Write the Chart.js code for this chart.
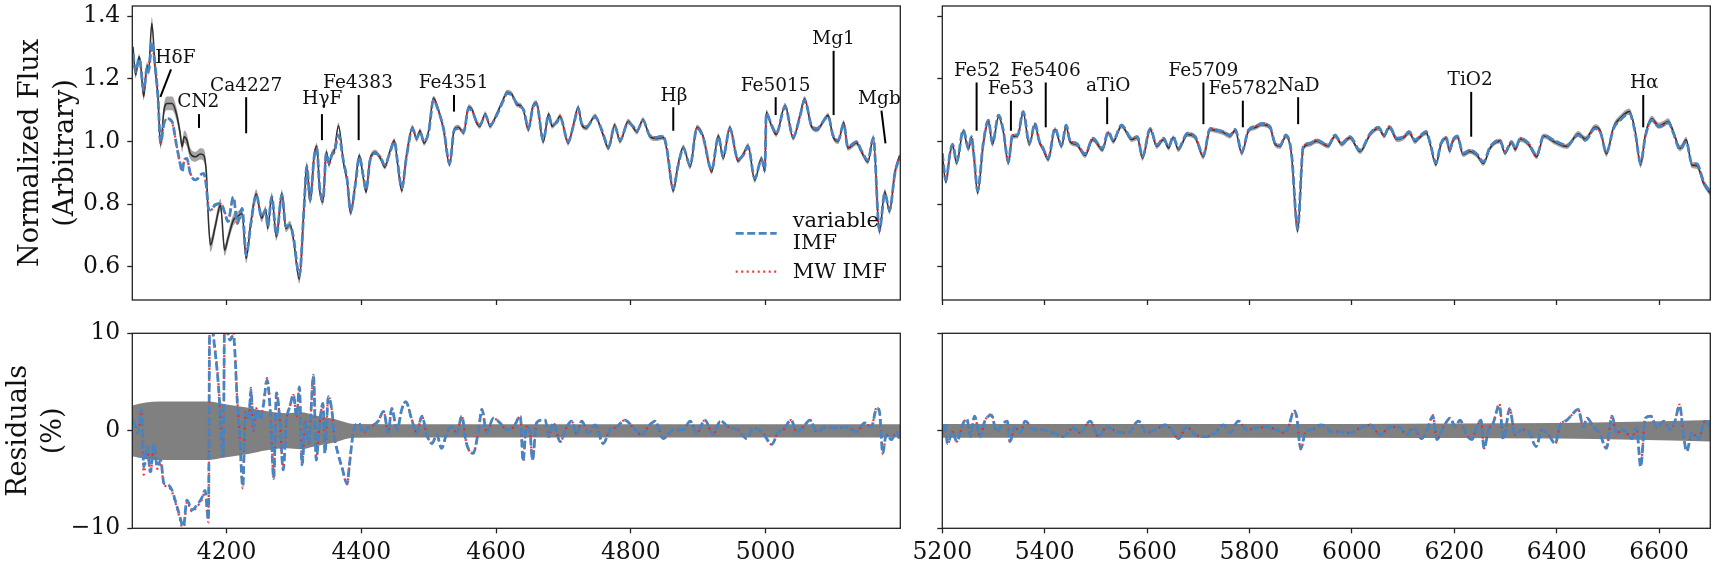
<!DOCTYPE html>
<html>
<head>
<meta charset="utf-8">
<script src="https://cdn.jsdelivr.net/npm/chart.js@4.4.0/dist/chart.umd.min.js"></script>
<style>
body { margin: 0; background: #fff; }
#wrap { position: relative; width: 1717px; height: 568px; overflow: hidden; }
canvas { position: absolute; }
</style>
</head>
<body>
<div id="wrap">
<canvas id="fluxLeft" width="912" height="310" style="left:0;top:0"></canvas>
<canvas id="fluxRight" width="817" height="310" style="left:900px;top:0"></canvas>
<canvas id="resLeft" width="912" height="258" style="left:0;top:310px"></canvas>
<canvas id="resRight" width="817" height="258" style="left:900px;top:310px"></canvas>
</div>
<script>
// ---- data: blue part of the spectrum (4060-5200 A) ----
var waveL = [
  4061,4065,4070,4072,4077,4082,4084,4089,4094,4098,
  4102,4107,4112,4119,4126,4131,4134,4137,4141,4146,
  4154,4161,4166,4170,4173,4176,4183,4191,4197,4202,
  4210,4216,4223,4229,4236,4244,4252,4258,4261,4267,
  4274,4282,4288,4294,4299,4308,4315,4319,4324,4330,
  4334,4338,4343,4348,4352,4356,4360,4366,4374,4379,
  4384,4391,4397,4403,4407,4413,4421,4428,4435,4442,
  4449,4454,4460,4467,4476,4482,4487,4493,4500,4507,
  4514,4522,4531,4538,4544,4552,4559,4565,4570,4576,
  4584,4591,4601,4611,4616,4623,4631,4636,4641,4648,
  4655,4660,4670,4678,4683,4690,4695,4707,4715,4722,
  4727,4734,4747,4757,4767,4776,4784,4796,4804,4809,
  4818,4828,4838,4848,4853,4863,4870,4878,4888,4898,
  4907,4920,4930,4937,4947,4959,4967,4974,4984,4994,
  4999,5001,5009,5016,5029,5041,5051,5058,5068,5076,
  5093,5100,5108,5116,5122,5135,5142,5152,5160,5169,
  5177,5184,5192,5199];
var fluxObsL = [
  1.302,1.212,1.270,1.254,1.143,1.244,1.222,1.377,1.228,1.143,
  0.988,1.100,1.121,1.121,1.084,1.026,0.983,1.015,1.004,0.962,
  0.951,0.960,0.956,0.898,0.749,0.669,0.728,0.797,0.653,0.690,
  0.749,0.760,0.770,0.627,0.742,0.833,0.755,0.783,0.722,0.826,
  0.695,0.835,0.722,0.735,0.690,0.560,0.795,0.925,0.808,0.957,
  0.985,0.848,0.806,0.968,0.925,0.960,0.972,1.050,0.925,0.872,
  0.770,0.865,0.956,0.882,0.838,0.945,0.965,0.947,0.918,0.966,
  1.003,0.925,0.842,0.955,1.045,1.006,1.035,0.994,1.035,1.138,
  1.104,1.037,0.925,1.040,1.045,1.027,1.110,1.100,1.064,1.048,
  1.088,1.048,1.088,1.136,1.157,1.152,1.117,1.115,1.096,1.036,
  1.116,1.123,0.998,1.088,1.048,1.064,1.081,0.994,1.056,1.110,
  1.053,1.043,1.081,1.032,0.978,1.053,1.000,1.064,1.043,1.030,
  1.070,1.016,1.009,1.013,0.978,0.842,0.925,0.982,0.919,1.045,
  1.019,0.903,1.019,0.946,1.045,0.938,0.960,0.987,0.876,0.947,
  0.903,1.094,1.048,1.022,1.115,1.010,1.083,1.137,1.048,1.037,
  1.083,1.016,1.000,1.061,0.978,0.995,0.968,0.935,1.014,0.710,
  0.840,0.776,0.902,0.955];
var fluxVarL = [
  1.281,1.222,1.265,1.248,1.164,1.238,1.222,1.318,1.238,1.143,
  0.994,1.057,1.073,1.063,0.983,0.930,0.903,0.940,0.946,0.898,
  0.877,0.893,0.898,0.855,0.786,0.781,0.797,0.802,0.775,0.744,
  0.823,0.738,0.786,0.637,0.738,0.829,0.760,0.781,0.728,0.823,
  0.701,0.829,0.728,0.733,0.696,0.573,0.791,0.919,0.813,0.951,
  0.978,0.855,0.813,0.962,0.930,0.956,0.967,1.020,0.930,0.877,
  0.776,0.861,0.951,0.887,0.845,0.940,0.962,0.951,0.924,0.962,
  0.999,0.930,0.850,0.951,1.041,1.010,1.031,0.999,1.031,1.132,
  1.100,1.041,0.930,1.036,1.041,1.031,1.105,1.095,1.068,1.052,
  1.084,1.052,1.084,1.132,1.153,1.148,1.121,1.111,1.100,1.041,
  1.111,1.119,1.004,1.084,1.052,1.060,1.077,0.999,1.052,1.105,
  1.057,1.047,1.077,1.036,0.983,1.049,1.004,1.060,1.047,1.034,
  1.066,1.020,1.013,1.017,0.983,0.850,0.921,0.978,0.924,1.041,
  1.015,0.909,1.015,0.951,1.041,0.943,0.956,0.983,0.882,0.943,
  0.909,1.089,1.052,1.026,1.111,1.015,1.079,1.132,1.052,1.041,
  1.079,1.020,1.004,1.057,0.983,0.999,0.972,0.940,1.010,0.717,
  0.834,0.781,0.898,0.951];
var fluxMwL = [
  1.279,1.224,1.263,1.250,1.160,1.240,1.220,1.310,1.236,1.146,
  0.992,1.060,1.070,1.060,0.985,0.928,0.905,0.938,0.944,0.900,
  0.875,0.891,0.900,0.853,0.788,0.779,0.799,0.800,0.777,0.742,
  0.821,0.740,0.784,0.640,0.736,0.827,0.762,0.779,0.730,0.821,
  0.701,0.829,0.728,0.733,0.696,0.573,0.791,0.919,0.813,0.951,
  0.978,0.855,0.813,0.962,0.930,0.956,0.967,1.020,0.930,0.877,
  0.776,0.861,0.951,0.887,0.845,0.940,0.962,0.951,0.924,0.962,
  0.999,0.930,0.850,0.951,1.041,1.010,1.031,0.999,1.031,1.132,
  1.100,1.041,0.930,1.036,1.041,1.031,1.105,1.095,1.068,1.052,
  1.084,1.052,1.084,1.132,1.153,1.148,1.121,1.111,1.100,1.041,
  1.111,1.119,1.004,1.084,1.052,1.060,1.077,0.999,1.052,1.105,
  1.057,1.047,1.077,1.036,0.983,1.049,1.004,1.060,1.047,1.034,
  1.066,1.020,1.013,1.017,0.983,0.850,0.921,0.978,0.924,1.041,
  1.015,0.909,1.015,0.951,1.041,0.943,0.956,0.983,0.882,0.943,
  0.909,1.089,1.052,1.026,1.111,1.015,1.079,1.132,1.052,1.041,
  1.079,1.020,1.004,1.057,0.983,0.999,0.972,0.940,1.010,0.717,
  0.834,0.781,0.898,0.951];
var fluxErrL = [
  0.010,0.010,0.010,0.010,0.012,0.012,0.012,0.020,0.014,0.012,
  0.012,0.018,0.022,0.022,0.020,0.018,0.018,0.020,0.020,0.018,
  0.016,0.018,0.020,0.020,0.020,0.022,0.020,0.020,0.018,0.018,
  0.018,0.016,0.016,0.016,0.014,0.014,0.012,0.012,0.012,0.012,
  0.012,0.012,0.012,0.012,0.012,0.014,0.012,0.012,0.010,0.010,
  0.010,0.010,0.010,0.010,0.010,0.010,0.010,0.010,0.010,0.010,
  0.008,0.008,0.008,0.008,0.008,0.008,0.008,0.008,0.008,0.008,
  0.008,0.008,0.008,0.008,0.008,0.008,0.008,0.008,0.008,0.008,
  0.008,0.008,0.008,0.008,0.008,0.008,0.008,0.008,0.008,0.008,
  0.008,0.008,0.008,0.008,0.008,0.008,0.008,0.008,0.008,0.008,
  0.008,0.008,0.008,0.008,0.008,0.008,0.008,0.008,0.008,0.008,
  0.008,0.008,0.008,0.008,0.008,0.008,0.008,0.008,0.008,0.008,
  0.008,0.008,0.008,0.008,0.008,0.008,0.008,0.008,0.008,0.008,
  0.008,0.008,0.008,0.008,0.008,0.008,0.008,0.008,0.008,0.008,
  0.008,0.008,0.008,0.008,0.008,0.008,0.008,0.008,0.008,0.008,
  0.008,0.008,0.008,0.008,0.008,0.008,0.008,0.008,0.008,0.010,
  0.009,0.009,0.008,0.008];

// ---- data: red part of the spectrum (5200-6700 A) ----
var waveR = [
  5200,5207,5215,5220,5228,5241,5251,5257,5262,5269,
  5280,5290,5298,5310,5319,5329,5337,5347,5358,5370,
  5381,5389,5397,5407,5420,5433,5442,5449,5462,5479,
  5494,5513,5524,5534,5550,5570,5581,5591,5606,5619,
  5632,5642,5651,5661,5679,5694,5710,5723,5736,5749,
  5762,5772,5785,5798,5811,5824,5840,5850,5860,5871,
  5882,5894,5905,5918,5931,5954,5967,5980,5996,6016,
  6036,6052,6063,6073,6088,6101,6112,6123,6133,6145,
  6153,6164,6174,6184,6191,6197,6206,6217,6231,6244,
  6257,6270,6289,6299,6312,6319,6329,6345,6361,6375,
  6394,6420,6442,6456,6475,6486,6497,6511,6524,6542,
  6553,6564,6573,6586,6599,6609,6618,6628,6641,6653,
  6664,6674,6687,6700];
var fluxObsR = [
  0.958,0.870,0.960,0.988,0.930,1.033,0.975,1.012,0.946,0.835,
  0.990,1.064,0.990,1.080,1.032,0.930,1.016,1.017,1.092,0.990,
  1.053,1.000,0.974,0.942,1.038,0.984,1.049,1.000,0.990,0.955,
  1.006,0.973,1.027,1.000,1.049,1.006,1.012,0.946,1.038,0.984,
  1.006,0.979,1.012,0.974,1.022,1.012,0.951,1.038,1.034,1.028,
  1.017,1.035,0.962,1.033,1.044,1.054,1.044,0.990,0.984,1.017,
  0.957,0.712,0.979,0.991,1.001,0.985,1.017,0.991,1.012,0.968,
  1.023,1.042,1.017,1.044,1.006,1.012,1.028,1.000,1.014,1.028,
  0.990,0.926,0.990,1.010,0.968,1.000,1.014,0.958,0.968,0.956,
  0.930,0.979,1.001,0.963,0.996,0.974,1.007,0.990,0.951,1.017,
  1.000,0.984,1.024,1.008,1.046,1.031,0.960,1.046,1.074,1.095,
  1.036,0.925,1.020,1.072,1.050,1.056,1.064,1.030,0.978,1.005,
  0.925,0.922,0.866,0.835];
var fluxVarR = [
  0.962,0.877,0.962,0.991,0.935,1.036,0.978,1.015,0.951,0.843,
  0.994,1.068,0.994,1.084,1.036,0.935,1.020,1.020,1.095,0.994,
  1.057,1.004,0.978,0.946,1.041,0.988,1.052,1.004,0.994,0.960,
  1.010,0.978,1.031,1.004,1.052,1.010,1.015,0.951,1.041,0.988,
  1.010,0.983,1.015,0.978,1.026,1.015,0.956,1.041,1.036,1.031,
  1.020,1.038,0.967,1.036,1.047,1.057,1.047,0.994,0.988,1.020,
  0.962,0.722,0.983,0.994,1.004,0.988,1.020,0.994,1.015,0.972,
  1.026,1.045,1.020,1.047,1.010,1.015,1.031,1.004,1.017,1.031,
  0.994,0.932,0.994,1.013,0.972,1.004,1.017,0.962,0.972,0.960,
  0.935,0.983,1.004,0.967,0.999,0.978,1.010,0.994,0.956,1.020,
  1.004,0.988,1.020,1.004,1.041,1.026,0.964,1.041,1.068,1.089,
  1.031,0.930,1.015,1.068,1.047,1.052,1.060,1.026,0.974,0.999,
  0.930,0.928,0.871,0.839];
var fluxMwR = [
  0.962,0.875,0.962,0.991,0.935,1.036,0.978,1.015,0.951,0.841,
  0.994,1.068,0.994,1.084,1.036,0.935,1.020,1.020,1.095,0.994,
  1.057,1.004,0.978,0.946,1.041,0.988,1.052,1.004,0.994,0.960,
  1.010,0.978,1.031,1.004,1.052,1.010,1.015,0.951,1.041,0.988,
  1.010,0.983,1.015,0.978,1.026,1.015,0.956,1.041,1.036,1.031,
  1.020,1.038,0.967,1.036,1.047,1.057,1.047,0.994,0.988,1.020,
  0.962,0.720,0.983,0.994,1.004,0.988,1.020,0.994,1.015,0.972,
  1.026,1.045,1.020,1.047,1.010,1.015,1.031,1.004,1.017,1.031,
  0.994,0.932,0.994,1.013,0.972,1.004,1.017,0.962,0.972,0.960,
  0.935,0.983,1.004,0.967,0.999,0.978,1.010,0.994,0.956,1.020,
  1.004,0.988,1.020,1.004,1.041,1.026,0.964,1.041,1.068,1.089,
  1.031,0.932,1.015,1.068,1.047,1.052,1.060,1.026,0.974,0.999,
  0.930,0.928,0.871,0.839];
var fluxErrR = [
  0.008,0.008,0.008,0.008,0.008,0.008,0.008,0.008,0.008,0.008,
  0.008,0.008,0.008,0.008,0.008,0.008,0.008,0.008,0.008,0.008,
  0.008,0.008,0.008,0.008,0.008,0.008,0.008,0.008,0.008,0.008,
  0.008,0.008,0.008,0.008,0.008,0.008,0.008,0.008,0.008,0.008,
  0.008,0.008,0.008,0.008,0.008,0.008,0.008,0.008,0.008,0.008,
  0.008,0.008,0.008,0.008,0.008,0.008,0.008,0.008,0.008,0.008,
  0.008,0.008,0.008,0.008,0.008,0.008,0.008,0.008,0.008,0.008,
  0.008,0.008,0.008,0.008,0.008,0.008,0.008,0.008,0.008,0.008,
  0.008,0.008,0.008,0.008,0.008,0.008,0.008,0.008,0.008,0.008,
  0.008,0.008,0.008,0.008,0.008,0.008,0.008,0.008,0.008,0.008,
  0.008,0.008,0.009,0.009,0.009,0.009,0.009,0.009,0.010,0.010,
  0.010,0.010,0.010,0.010,0.010,0.010,0.010,0.010,0.010,0.010,
  0.010,0.010,0.010,0.010];

// ---- residuals (%) ----
var resWaveL = [
  4061,4065,4068,4074,4077,4082,4087,4092,4097,4102,
  4107,4112,4119,4124,4129,4136,4141,4149,4156,4163,
  4168,4173,4175,4181,4188,4195,4197,4205,4210,4216,
  4219,4224,4228,4233,4236,4240,4245,4250,4255,4260,
  4265,4270,4274,4279,4284,4289,4294,4299,4304,4308,
  4312,4317,4322,4329,4333,4338,4343,4346,4351,4356,
  4360,4366,4371,4379,4382,4388,4396,4403,4411,4418,
  4425,4433,4440,4445,4453,4460,4466,4475,4482,4490,
  4497,4505,4512,4519,4527,4534,4542,4549,4556,4566,
  4574,4579,4586,4596,4606,4616,4626,4636,4640,4645,
  4650,4654,4660,4668,4673,4678,4685,4695,4705,4712,
  4720,4727,4737,4747,4759,4769,4779,4791,4804,4816,
  4828,4836,4848,4863,4878,4888,4898,4910,4922,4933,
  4945,4959,4972,4982,4996,5009,5019,5026,5038,5046,
  5056,5066,5076,5090,5105,5120,5135,5147,5157,5165,
  5169,5174,5179,5187,5194,5199];
var resVarL = [
  1.1,0.4,-0.2,2.2,-3.7,-1.6,-4.2,-1.3,-3.7,-3.0,
  -5.4,-5.5,-6.1,-7.2,-8.4,-9.8,-7.1,-8.1,-7.6,-6.9,
  -6.1,-9.1,12,9.3,4.5,-2.6,11,9.3,9.8,2.8,
  0.1,-5.7,1.8,1.1,4.2,0.1,2.2,1.1,2.8,5.2,
  1.8,-4.9,3.9,1.1,-4.0,1.1,2.5,3.7,1.5,4.5,
  -3.5,1.1,-1.3,5.7,-3.0,0.8,2.8,-2.3,3.5,2.2,
  -0.6,-2.5,-3.7,-5.4,-3.7,-0.2,0.8,-0.2,0.4,0.6,
  1.0,2.0,-0.2,2.3,0.1,2.2,3.0,1.1,-0.2,1.5,
  -0.4,-1.3,-0.4,-1.8,-0.2,0.4,-0.2,1.5,-1.3,-2.3,
  0.1,2.2,-0.2,1.3,0.8,0.1,0.4,1.5,-3.1,0.4,
  0.1,-3.0,0.8,1.1,1.1,-0.6,0.8,-1.1,0.4,1.0,
  -0.4,1.0,-0.2,0.6,-1.3,0.1,0.4,1.1,0.3,-0.4,
  0.6,1.0,-0.8,0.1,0.1,1.0,-0.2,1.1,-0.4,1.0,
  0.4,0.1,-0.8,0.3,-0.2,-1.4,-0.1,0.1,1.1,-0.1,
  0.4,1.1,-0.1,0.4,0.3,0.4,-0.1,0.8,0.4,2.3,
  2.0,-2.3,-0.4,-0.9,-0.1,-0.9];
var resMwL = [
  1.0,0.3,-0.3,2.0,-4.5,-1.8,-4.4,-1.5,-3.9,-3.2,
  -5.6,-5.7,-6.3,-7.4,-8.6,-10.2,-7.3,-8.3,-7.8,-7.1,
  -6.3,-9.4,12,9.5,4.7,-2.8,11,9.5,10,3.0,
  0.0,-5.9,1.9,1.2,4.4,0.0,2.4,1.2,3.0,5.4,
  1.8,-4.9,3.9,1.1,-4.0,1.1,2.5,3.7,1.5,4.5,
  -3.5,1.1,-1.3,5.7,-3.0,0.8,2.8,-2.3,3.5,2.2,
  -0.6,-2.5,-3.7,-5.5,-3.7,-0.2,0.8,-0.2,0.4,0.6,
  1.0,2.0,-0.2,2.3,0.1,2.2,3.0,1.1,-0.2,1.5,
  -0.4,-1.3,-0.4,-1.8,-0.2,0.4,-0.2,1.5,-1.3,-2.3,
  0.1,2.2,-0.2,1.3,0.8,0.1,0.4,1.5,-3.1,0.4,
  0.1,-3.0,0.8,1.1,1.1,-0.6,0.8,-1.1,0.4,1.0,
  -0.4,1.0,-0.2,0.6,-1.3,0.1,0.4,1.1,0.3,-0.4,
  0.6,1.0,-0.8,0.1,0.1,1.0,-0.2,1.1,-0.4,1.0,
  0.4,0.1,-0.8,0.3,-0.2,-1.4,-0.1,0.1,1.1,-0.1,
  0.4,1.1,-0.1,0.4,0.3,0.4,-0.1,0.8,0.4,2.4,
  2.1,-2.4,-0.4,-0.9,-0.1,-0.9];
var resWaveR = [
  5200,5205,5210,5220,5228,5241,5248,5255,5263,5274,
  5283,5296,5306,5316,5327,5332,5342,5352,5362,5378,
  5397,5417,5436,5456,5469,5489,5505,5521,5541,5563,
  5583,5599,5616,5635,5648,5661,5677,5694,5713,5733,
  5749,5762,5778,5795,5814,5834,5853,5866,5876,5887,
  5892,5900,5909,5918,5931,5938,5951,5957,5977,5996,
  6016,6036,6055,6075,6094,6107,6120,6136,6149,6158,
  6166,6179,6192,6202,6211,6224,6234,6244,6252,6258,
  6267,6276,6288,6296,6308,6319,6332,6345,6360,6371,
  6384,6397,6407,6420,6429,6442,6452,6459,6472,6485,
  6497,6508,6517,6530,6547,6556,6564,6573,6584,6596,
  6609,6622,6631,6640,6648,6654,6664,6677,6690,6700];
var resVarR = [
  -0.2,0.8,-1.3,-0.1,-1.1,0.8,1.2,-0.6,1.5,-0.6,
  1.0,1.6,-0.1,0.6,1.0,-1.1,0.4,-0.2,1.0,0.1,
  0.1,-0.2,-0.6,0.3,-0.2,1.0,-0.6,0.4,-0.1,-0.2,
  1.0,-0.2,0.1,0.6,0.1,-0.8,0.4,-0.4,-0.6,-0.2,
  0.6,-0.2,1.0,0.1,0.3,0.4,0.1,-0.2,0.4,2.0,
  1.5,-1.8,-0.2,0.1,0.3,0.6,0.4,-0.1,-0.1,-0.2,
  0.3,0.6,-0.4,0.4,0.3,-0.4,0.3,-0.8,0.4,1.5,
  -0.9,0.4,1.3,0.4,1.1,-0.4,-0.9,0.4,1.1,-1.8,
  0.1,0.8,2.6,-0.9,2.2,-0.4,0.1,-0.1,-1.6,0.1,
  -0.4,-1.3,0.6,1.1,1.6,2.2,0.4,1.3,0.4,-0.4,
  -1.8,1.5,-0.2,0.1,-0.8,0.3,-3.7,1.3,1.5,0.3,
  1.0,0.1,1.0,2.6,-0.6,-2.1,-0.2,-0.8,1.0,0.4];
var resMwR = [
  -0.3,0.7,-1.4,-0.1,-1.1,0.8,1.2,-0.6,1.5,-0.6,
  1.0,1.7,-0.1,0.6,1.0,-1.2,0.4,-0.2,1.0,0.1,
  0.1,-0.2,-0.6,0.3,-0.2,1.0,-0.6,0.4,-0.1,-0.2,
  1.0,-0.2,0.1,0.6,0.1,-0.8,0.4,-0.4,-0.6,-0.2,
  0.6,-0.2,1.0,0.1,0.3,0.4,0.1,-0.2,0.4,2.1,
  1.5,-1.9,-0.2,0.1,0.3,0.6,0.4,-0.1,-0.1,-0.2,
  0.3,0.6,-0.4,0.4,0.3,-0.4,0.3,-0.8,0.4,1.6,
  -0.9,0.4,1.3,0.4,1.1,-0.4,-0.9,0.4,1.1,-1.8,
  0.1,0.8,2.8,-0.9,2.3,-0.4,0.1,-0.1,-1.6,0.1,
  -0.4,-1.3,0.6,1.1,1.6,2.2,0.4,1.3,0.4,-0.4,
  -1.8,1.5,-0.2,0.1,-0.8,0.3,-3.5,1.3,1.5,0.3,
  1.0,0.1,1.0,2.7,-0.6,-2.1,-0.2,-0.8,1.0,0.4];

// residual uncertainty band (%)
var bandWaveL = [4060,4080,4100,4140,4170,4200,4230,4260,4290,4310,4330,4360,4380,4390,4500,4700,4900,5200];
var bandSigL  = [2.6, 2.9, 3.0, 3.0, 3.0, 2.7, 2.4, 2.0, 1.8, 1.9, 1.6, 1.2, 0.8, 0.7, 0.68,0.68,0.68,0.68];
var bandWaveR = [5200,5500,5800,6000,6200,6400,6550,6700];
var bandSigR  = [0.7, 0.7, 0.7, 0.7, 0.74,0.8, 0.92,1.1];

// ticks
var xTicksL = [4200, 4400, 4600, 4800, 5000];
var xTicksR = [5200, 5400, 5600, 5800, 6000, 6200, 6400, 6600];
var fluxTicks = [0.6, 0.8, 1.0, 1.2, 1.4];
var resTicks = [-10, 0, 10];
var seriesNames = ['variable\nIMF', 'MW IMF'];

// index labels
var featNamesL = ['H\u03b4F', 'CN2', 'Ca4227', 'H\u03b3F', 'Fe4383', 'Fe4351', 'H\u03b2', 'Fe5015', 'Mg1', 'Mgb'];
var featTextWaveL = [4124, 4158, 4229, 4342, 4395, 4537, 4864, 5015, 5101, 5169];
var featTextFluxL = [1.251, 1.110, 1.162, 1.118, 1.171, 1.171, 1.129, 1.162, 1.311, 1.118];
var featFromWaveL = [4117.5, 4159, 4229, 4341.5, 4396, 4537.5, 4863, 5015, 5101, 5172];
var featFromFluxL = [1.230, 1.087, 1.141, 1.087, 1.148, 1.148, 1.109, 1.141, 1.289, 1.098];
var featToWaveL = [4101.7, 4159, 4229, 4341.5, 4396, 4537.5, 4863, 5015, 5101, 5178];
var featToFluxL = [1.142, 1.043, 1.026, 1.004, 1.004, 1.095, 1.034, 1.084, 1.084, 0.994];

var featNamesR = ['Fe52', 'Fe53', 'Fe5406', 'aTiO', 'Fe5709', 'Fe5782', 'NaD', 'TiO2', 'H\u03b1'];
var featTextWaveR = [5268, 5334, 5402, 5524, 5710, 5788, 5896, 6231, 6571];
var featTextFluxR = [1.208, 1.151, 1.208, 1.162, 1.208, 1.151, 1.162, 1.180, 1.169];
var featFromWaveR = [5267, 5334, 5402, 5522, 5710, 5787, 5895, 6233, 6569];
var featFromFluxR = [1.188, 1.130, 1.188, 1.141, 1.188, 1.130, 1.141, 1.158, 1.148];
var featToWaveR = [5267, 5334, 5402, 5522, 5710, 5787, 5895, 6233, 6569];
var featToFluxR = [1.034, 1.034, 1.045, 1.055, 1.055, 1.045, 1.055, 1.015, 1.045];

// ---- styling ----
var SERIF = 'DejaVu Serif';
var INK = '#111';
var BLUE = '#4784c2';
var RED = 'rgba(238,32,32,0.9)';
Chart.defaults.font.family = SERIF;
Chart.defaults.color = INK;

function pts(xs, ys) {
  return xs.map(function (x, i) { return { x: x, y: ys[i] }; });
}
function shifted(xs, ys, es, sign) {
  return xs.map(function (x, i) { return { x: x, y: ys[i] + sign * es[i] }; });
}
function neg(arr) { return arr.map(function (v) { return -v; }); }

function modelSets(varData, mwData) {
  return [
    { label: seriesNames[0], data: varData, borderColor: BLUE, borderWidth: 2.8,
      borderDash: [8, 3.5], pointRadius: 0, cubicInterpolationMode: 'monotone', fill: false },
    { label: seriesNames[1], data: mwData, borderColor: RED, borderWidth: 2.2,
      borderDash: [2, 3.5], pointRadius: 0, cubicInterpolationMode: 'monotone', fill: false }
  ];
}
function bandSets(upper, lower, color) {
  return [
    { data: upper, borderWidth: 0, borderColor: 'transparent', pointRadius: 0,
      cubicInterpolationMode: 'monotone', fill: false },
    { data: lower, borderWidth: 0, borderColor: 'transparent', pointRadius: 0,
      cubicInterpolationMode: 'monotone', fill: '-1', backgroundColor: color }
  ];
}

function fixedTicks(list) {
  return function (scale) { scale.ticks = list.map(function (v) { return { value: v }; }); };
}
// pin the box size and drop the label overhang padding so the plot area sits exactly
function pinBox(prop, size) {
  return function (s) {
    s[prop] = size;
    s.paddingTop = 0; s.paddingBottom = 0; s.paddingLeft = 0; s.paddingRight = 0;
  };
}
var tickGrid = { display: true, drawOnChartArea: false, drawTicks: true, tickLength: 5, tickWidth: 1.3, tickColor: '#222' };

function xAxis(min, max, list, showLabels, height) {
  return {
    type: 'linear', min: min, max: max,
    afterBuildTicks: fixedTicks(list),
    afterFit: pinBox('height', height),
    ticks: { display: showLabels, font: { family: SERIF, size: 23.5 }, color: INK, padding: 5,
      maxRotation: 0, autoSkip: false, callback: function (v) { return String(v); } },
    grid: tickGrid,
    border: { display: false }
  };
}
function yAxis(min, max, list, width, labelFn, title, titlePad) {
  var ax = {
    min: min, max: max,
    afterBuildTicks: fixedTicks(list),
    afterFit: pinBox('width', width),
    ticks: { display: !!labelFn, callback: labelFn || undefined, font: { family: SERIF, size: 23.5 }, color: INK, padding: 7 },
    grid: tickGrid,
    border: { display: false }
  };
  if (title) {
    ax.title = { display: true, text: title, color: INK, font: { family: SERIF, size: 27, lineHeight: 1.3 },
      padding: { top: titlePad, bottom: 0 } };
  }
  return ax;
}

var framePlugin = {
  id: 'frame',
  afterDraw: function (chart) {
    var a = chart.chartArea, ctx = chart.ctx;
    ctx.save();
    ctx.strokeStyle = '#222';
    ctx.lineWidth = 1.3;
    ctx.strokeRect(a.left, a.top, a.right - a.left, a.bottom - a.top);
    ctx.restore();
  }
};

function featurePlugin(names, tw, tf, fw, ff, ew, ef) {
  return {
    id: 'features',
    afterDatasetsDraw: function (chart) {
      var xs = chart.scales.x, ys = chart.scales.y, ctx = chart.ctx;
      ctx.save();
      ctx.font = '18.5px "' + SERIF + '"';
      ctx.fillStyle = INK;
      ctx.textAlign = 'center';
      ctx.textBaseline = 'alphabetic';
      ctx.strokeStyle = '#000';
      ctx.lineWidth = 2;
      for (var i = 0; i < names.length; i++) {
        ctx.fillText(names[i], xs.getPixelForValue(tw[i]), ys.getPixelForValue(tf[i]));
        ctx.beginPath();
        ctx.moveTo(xs.getPixelForValue(fw[i]), ys.getPixelForValue(ff[i]));
        ctx.lineTo(xs.getPixelForValue(ew[i]), ys.getPixelForValue(ef[i]));
        ctx.stroke();
      }
      ctx.restore();
    }
  };
}

var legendPlugin = {
  id: 'imfLegend',
  afterDraw: function (chart) {
    var a = chart.chartArea, ctx = chart.ctx;
    var x0 = a.right - 164.6, x1 = a.right - 123.6, tx = a.right - 107.6;
    ctx.save();
    ctx.lineWidth = 2.8;
    ctx.strokeStyle = BLUE;
    ctx.setLineDash([8, 3.5]);
    ctx.beginPath(); ctx.moveTo(x0, a.bottom - 66.7); ctx.lineTo(x1, a.bottom - 66.7); ctx.stroke();
    ctx.lineWidth = 2.2;
    ctx.strokeStyle = RED;
    ctx.setLineDash([2, 3.5]);
    ctx.beginPath(); ctx.moveTo(x0, a.bottom - 28.3); ctx.lineTo(x1, a.bottom - 28.3); ctx.stroke();
    ctx.setLineDash([]);
    ctx.font = '21px "' + SERIF + '"';
    ctx.fillStyle = INK;
    ctx.textAlign = 'left';
    ctx.textBaseline = 'alphabetic';
    var first = seriesNames[0].split('\n');
    ctx.fillText(first[0], tx, a.bottom - 72.7);
    ctx.fillText(first[1], tx, a.bottom - 50.7);
    ctx.fillText(seriesNames[1], tx, a.bottom - 21.7);
    ctx.restore();
  }
};

function baseOptions(scales, pad) {
  return {
    responsive: false, animation: false, devicePixelRatio: 1,
    layout: { padding: pad },
    plugins: { legend: { display: false }, tooltip: { enabled: false } },
    scales: scales
  };
}

var fluxLabel = function (v) { return v.toFixed(1); };
var resLabel = function (v) { return v < 0 ? '\u2212' + Math.abs(v) : String(v); };

// top left: spectrum 4060-5200
new Chart(document.getElementById('fluxLeft'), {
  type: 'line',
  data: {
    datasets: modelSets(pts(waveL, fluxVarL), pts(waveL, fluxMwL)).concat([
      { data: pts(waveL, fluxObsL), borderColor: 'rgba(25,25,25,0.85)', borderWidth: 1.6, pointRadius: 0,
        cubicInterpolationMode: 'monotone', fill: false }
    ]).concat(bandSets(shifted(waveL, fluxObsL, fluxErrL, 1), shifted(waveL, fluxObsL, fluxErrL, -1), 'rgba(105,105,105,0.6)'))
  },
  options: baseOptions({
    x: xAxis(4060, 5200, xTicksL, false, 10),
    y: yAxis(0.494, 1.432, fluxTicks, 132.3, fluxLabel, ['Normalized Flux', '(Arbitrary)'], 13)
  }, { left: 0, top: 6, right: 11.7, bottom: 0 }),
  plugins: [framePlugin, legendPlugin,
    featurePlugin(featNamesL, featTextWaveL, featTextFluxL, featFromWaveL, featFromFluxL, featToWaveL, featToFluxL)]
});

// top right: spectrum 5200-6700
new Chart(document.getElementById('fluxRight'), {
  type: 'line',
  data: {
    datasets: modelSets(pts(waveR, fluxVarR), pts(waveR, fluxMwR)).concat([
      { data: pts(waveR, fluxObsR), borderColor: 'rgba(25,25,25,0.85)', borderWidth: 1.6, pointRadius: 0,
        cubicInterpolationMode: 'monotone', fill: false }
    ]).concat(bandSets(shifted(waveR, fluxObsR, fluxErrR, 1), shifted(waveR, fluxObsR, fluxErrR, -1), 'rgba(105,105,105,0.6)'))
  },
  options: baseOptions({
    x: xAxis(5200, 6700, xTicksR, false, 10),
    y: yAxis(0.494, 1.432, fluxTicks, 42.3, null, null, 0)
  }, { left: 0, top: 6, right: 6.7, bottom: 0 }),
  plugins: [framePlugin,
    featurePlugin(featNamesR, featTextWaveR, featTextFluxR, featFromWaveR, featFromFluxR, featToWaveR, featToFluxR)]
});

// bottom left: residuals
new Chart(document.getElementById('resLeft'), {
  type: 'line',
  data: {
    datasets: modelSets(pts(resWaveL, resVarL), pts(resWaveL, resMwL))
      .concat(bandSets(pts(bandWaveL, bandSigL), pts(bandWaveL, neg(bandSigL)), '#808080'))
  },
  options: baseOptions({
    x: xAxis(4060, 5200, xTicksL, true, 39.7),
    y: yAxis(-10, 10, resTicks, 132.3, resLabel, ['Residuals', '(%)'], 1)
  }, { left: 0, top: 23.3, right: 11.7, bottom: 0 }),
  plugins: [framePlugin]
});

// bottom right: residuals
new Chart(document.getElementById('resRight'), {
  type: 'line',
  data: {
    datasets: modelSets(pts(resWaveR, resVarR), pts(resWaveR, resMwR))
      .concat(bandSets(pts(bandWaveR, bandSigR), pts(bandWaveR, neg(bandSigR)), '#808080'))
  },
  options: baseOptions({
    x: xAxis(5200, 6700, xTicksR, true, 39.7),
    y: yAxis(-10, 10, resTicks, 42.3, null, null, 0)
  }, { left: 0, top: 23.3, right: 6.7, bottom: 0 }),
  plugins: [framePlugin]
});
</script>
</body>
</html>
